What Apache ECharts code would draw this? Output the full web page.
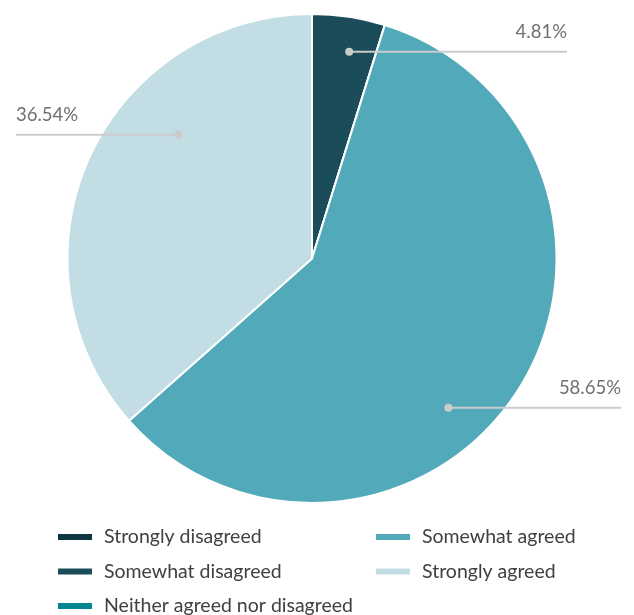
<!DOCTYPE html>
<html>
<head>
<meta charset="utf-8">
<script src="https://cdn.jsdelivr.net/npm/echarts@6/dist/echarts.min.js"></script>
<style>
  html, body { margin: 0; padding: 0; background: #fff; }
  #chart { width: 634px; height: 615px; }
</style>
</head>
<body>
<div id="chart"></div>
<script>
// Survey response shares (percent of respondents)
const categories = [
  'Strongly disagreed',
  'Somewhat disagreed',
  'Neither agreed nor disagreed',
  'Somewhat agreed',
  'Strongly agreed'
];
const shares = [0, 4.81, 0, 58.65, 36.54];
const colors = ['#0f3742', '#1a4d59', '#008591', '#52a9ba', '#c3dde4'];

// Pie geometry and callout placement (angle clockwise from 12 o'clock, radius fraction, line end x)
const CX = 312, CY = 258.5, R = 244.5;
const callouts = {
  1: { angle: 10.2, r: 0.859, endX: 567 },
  3: { angle: 137.6, r: 0.827, endX: 621 },
  4: { angle: 312.8, r: 0.745, endX: 16 }
};
function anchorPoint(i) {
  const c = callouts[i];
  const a = c.angle * Math.PI / 180;
  return [CX + c.r * R * Math.sin(a), CY - c.r * R * Math.cos(a)];
}

const FONT = 'Lato, "Open Sans", sans-serif';
const LABEL_COLOR = '#707070';
const LEGEND_COLOR = '#404040';
const CALLOUT_COLOR = '#cbcbcb';
const chart = echarts.init(document.getElementById('chart'));

const data = categories.map((name, i) => ({
  name: name,
  value: shares[i],
  itemStyle: { color: colors[i] },
  label: { show: shares[i] > 0 }
}));

// Leader lines and their end dots, one per labelled slice
const callout = [];
Object.keys(callouts).forEach(k => {
  const p = anchorPoint(+k);
  const end = callouts[k].endX;
  callout.push({
    type: 'line',
    shape: { x1: p[0], y1: p[1], x2: end, y2: p[1] },
    style: { stroke: CALLOUT_COLOR, lineWidth: 2 },
    z: 99
  });
  callout.push({
    type: 'circle',
    shape: { cx: p[0], cy: p[1], r: 4 },
    style: { fill: CALLOUT_COLOR },
    z: 100
  });
});

const legendText = {
  fontFamily: FONT, fontSize: 19.5, lineHeight: 20,
  color: LEGEND_COLOR, padding: [0, 0, 0, 6]
};

chart.setOption({
  animation: false,
  color: colors,
  legend: [
    {
      data: categories.slice(0, 3),
      orient: 'vertical',
      left: 51, top: 522, height: 120,
      itemWidth: 36, itemHeight: 8, itemGap: 14.5,
      icon: 'rect',
      selectedMode: false,
      textStyle: legendText
    },
    {
      data: categories.slice(3),
      orient: 'vertical',
      left: 369, top: 522, height: 120,
      itemWidth: 36, itemHeight: 8, itemGap: 14.5,
      icon: 'rect',
      selectedMode: false,
      textStyle: legendText
    }
  ],
  graphic: callout,
  series: [{
    type: 'pie',
    center: [CX, CY],
    radius: R,
    startAngle: 90,
    clockwise: true,
    data: data,
    itemStyle: { borderColor: '#ffffff', borderWidth: 2 },
    label: {
      position: 'outside',
      formatter: p => p.value.toFixed(2) + '%',
      fontFamily: FONT,
      fontSize: 18.5,
      color: LABEL_COLOR,
      overflow: 'none'
    },
    labelLine: { show: false },
    labelLayout: function (params) {
      const i = params.dataIndex;
      if (!callouts[i]) return {};
      const p = anchorPoint(i);
      const end = callouts[i].endX;
      return {
        x: end,
        y: p[1] - 20,
        align: end > p[0] ? 'right' : 'left',
        verticalAlign: 'middle'
      };
    }
  }]
});
</script>
</body>
</html>
